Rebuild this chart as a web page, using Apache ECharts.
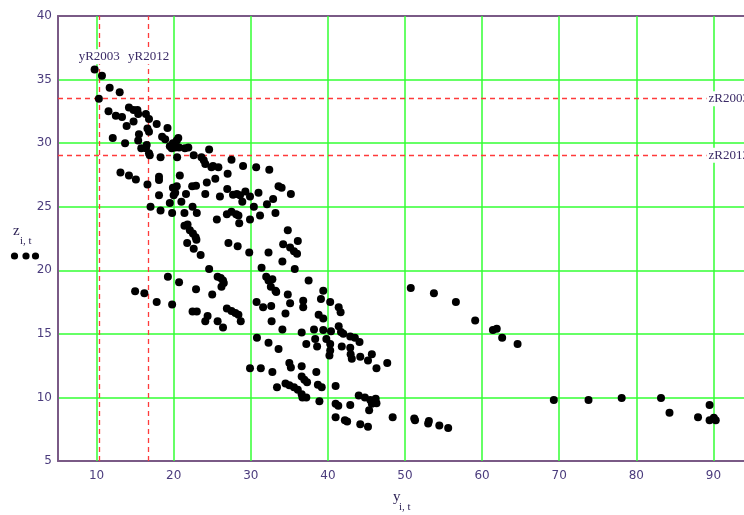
<!DOCTYPE html>
<html>
<head>
<meta charset="utf-8">
<script src="https://cdn.jsdelivr.net/npm/echarts@6/dist/echarts.min.js"></script>
<style>
html,body{margin:0;padding:0;background:#fff;overflow:hidden;width:744px;height:515px;}
#chart{width:770px;height:515px;}
</style>
</head>
<body>
<div id="chart"></div>
<script>
// x ticks (labels shown) and y range
var xTicks = [10, 20, 30, 40, 50, 60, 70, 80, 90];
var yMin = 5, yMax = 40, yStep = 5;

// reference lines
var vRefNames = ['yR2003', 'yR2012'];
var vRefValues = [10.35, 16.75];
var hRefNames = ['zR2003', 'zR2012'];
var hRefValues = [33.5, 29.05];

// points [y_i,t , z_i,t] : upper band
var upperBand = [
[9.75,35.8],[10.7,35.3],[11.7,34.35],[13.0,34.0],[10.3,33.5],[11.55,32.5],[12.5,32.15],[13.3,32.05],[13.9,31.35],[14.2,32.8],
[14.8,32.6],[15.3,32.6],[15.4,32.3],[14.8,31.7],[16.4,32.3],[16.8,31.9],[17.8,31.5],[16.6,31.15],[16.8,30.9],[19.2,31.2],
[18.5,30.5],[18.9,30.3],[15.5,30.7],[15.4,30.2],[12.1,30.4],[13.7,30.0],[15.8,29.6],[16.4,29.6],[16.5,29.85],[16.8,29.2],
[16.9,29.05],[18.3,28.9],[19.5,29.75],[19.9,30.0],[20.4,30.2],[20.6,30.4],[19.75,29.6],[20.2,29.65],[20.45,28.9],[20.7,29.65],
[21.45,29.6],[21.9,29.65],[22.6,29.05],[23.6,28.9],[23.9,28.65],[24.1,28.35],[24.6,29.5],[24.9,28.1],[25.1,28.2],[25.8,28.1],
[27.5,28.7],[29.0,28.2],[30.7,28.1],[32.4,27.9],[27.0,27.6]
];
// middle band
var middleBand = [
[13.1,27.7],[14.2,27.45],[15.1,27.15],[16.6,26.75],[18.1,27.35],[18.1,27.1],[18.1,25.9],[17.0,25.0],[18.3,24.7],[20.8,27.45],
[19.9,26.5],[20.4,26.6],[20.2,26.1],[21.6,26.0],[20.0,25.9],[19.5,25.3],[19.8,24.5],[21.0,25.4],[21.4,24.5],[22.45,25.0],
[23.0,24.5],[22.4,26.6],[22.9,26.65],[24.3,26.9],[24.1,26.0],[25.4,27.2],[26.0,25.8],[26.95,26.4],[27.7,25.95],[28.2,26.0],
[28.6,25.9],[29.3,26.2],[29.9,25.8],[28.9,25.4],[31.0,26.1],[30.4,25.0],[31.2,24.3],[32.1,25.2],[33.2,24.5],[32.9,25.6],
[33.6,26.6],[34.0,26.5],[35.2,26.0],[27.5,24.6],[28.4,24.3],[25.6,24.0],[26.9,24.4],[28.1,24.4],[28.5,23.7],[29.9,24.0],
[21.4,23.5],[21.8,23.6],[22.1,23.15],[22.5,22.9],[22.85,22.6],[22.95,22.4],[21.75,22.15],[22.6,21.7],[23.5,21.2],[27.1,22.15],
[28.3,21.9],[29.8,21.4],[34.8,23.15],[36.1,22.3],[34.2,22.05],[35.1,21.8],[35.6,21.5],[36.0,21.3],[32.3,21.4],[34.1,20.7],
[35.7,20.1],[31.4,20.2],[24.6,20.1],[25.7,19.5],[26.1,19.4],[26.4,19.2],[26.2,18.7],[26.5,19.0],[19.25,19.5],[20.7,19.05],
[22.9,18.5],[25.0,18.1],[15.0,18.35],[16.2,18.2],[17.8,17.5],[19.8,17.3],[22.45,16.75],[23.0,16.75],[24.4,16.4],[24.1,16.0],
[25.7,16.0],[26.4,15.5],[26.9,17.0],[27.5,16.8],[28.0,16.65],[28.4,16.5],[28.7,16.0]
];
// lower band
var lowerBand = [
[32.0,19.5],[32.3,19.2],[32.8,19.3],[32.6,18.7],[33.2,18.4],[33.3,18.3],[30.75,17.5],[31.6,17.1],[32.65,17.2],[34.8,18.1],
[35.1,17.4],[34.5,16.6],[32.7,16.0],[34.1,15.35],[30.8,14.7],[32.3,14.3],[33.6,13.8],[37.5,19.2],[36.8,17.6],[36.8,17.1],
[39.4,18.4],[39.1,17.75],[40.3,17.5],[41.4,17.1],[41.65,16.7],[38.8,16.5],[39.4,16.2],[36.6,15.1],[38.2,15.35],[39.4,15.3],
[40.4,15.2],[41.4,15.6],[41.7,15.15],[42.0,15.0],[42.9,14.8],[43.5,14.7],[44.1,14.35],[37.2,14.2],[38.35,14.6],[38.6,14.0],
[39.8,14.6],[40.3,14.2],[42.9,13.9],[40.3,13.7],[40.2,13.3],[41.8,14.0],[43.1,13.05],[44.2,13.2],[45.7,13.4],[45.2,12.9],
[46.3,12.3],[47.7,12.7],[42.95,13.4],
[29.9,12.3],[31.3,12.3],[32.8,12.0],[33.4,10.8],[35.0,12.7],[35.2,12.35],[36.6,12.45],[36.6,11.65],[36.95,11.4],[37.3,11.2],
[38.5,12.0],[34.5,11.1],[35.0,10.95],[35.6,10.8],[36.1,10.6],[36.6,10.25],[36.7,10.0],[37.2,10.0],[38.7,11.0],[39.2,10.8],
[38.9,9.7],[41.0,10.9],[41.0,9.5],[41.35,9.35],[42.9,9.4],[41.0,8.45],[42.2,8.2],[42.5,8.1],[44.2,7.9],[45.2,7.7],
[44.0,10.15],[44.8,10.0],[45.5,9.8],[46.2,9.9],[46.3,9.55],[45.7,9.5],[45.35,9.0],[48.4,8.45],[51.2,8.35],[51.3,8.2],
[53.0,7.95],[53.1,8.15],[54.45,7.8],[55.6,7.6]
];
// far points
var farPoints = [
[50.75,18.6],[53.75,18.2],[56.6,17.5],[59.1,16.05],[61.4,15.3],[61.9,15.4],[62.6,14.7],[64.6,14.2],
[69.3,9.8],[73.8,9.8],[78.1,9.95],[83.2,9.95],[84.3,8.8],[88.0,8.45],[89.5,9.4],[89.5,8.2],[90.05,8.4],[90.3,8.2]
];

var allPoints = upperBand.concat(middleBand, lowerBand, farPoints);

var PURPLE_AXIS = '#7a5a86';
var LABEL_COLOR = '#4b3c7d';
var TITLE_COLOR = '#2e2356';
var GREEN = '#33ff33';
var RED = '#ff3b3b';

var chart = echarts.init(document.getElementById('chart'), null, {renderer: 'canvas'});

var vLineData = vRefValues.map(function (v) { return {xAxis: v}; });
var hLineData = hRefValues.map(function (v) { return {yAxis: v}; });
var refLabelPoints = vRefNames.map(function (n, i) {
  return {name: n, coord: [vRefValues[i], 36.8],
          label: {align: 'center', verticalAlign: 'middle'}};
}).concat(hRefNames.map(function (n, i) {
  return {name: n, coord: [89.1, hRefValues[i]],
          label: {align: 'left', verticalAlign: 'middle'}};
}));

var option = {
  animation: false,
  backgroundColor: '#ffffff',
  grid: {left: 58, top: 16, width: 694, height: 445, containLabel: false},
  xAxis: [{
    type: 'value', min: 5, max: 95, interval: 5,
    axisLine: {show: true, onZero: false, lineStyle: {color: PURPLE_AXIS, width: 2}},
    axisTick: {show: false},
    splitLine: {show: false},
    axisLabel: {
      color: LABEL_COLOR, fontFamily: 'DejaVu Sans', fontSize: 12, margin: 9,
      formatter: function (v) { return xTicks.indexOf(v) >= 0 ? String(v) : ''; }
    }
  }, {
    type: 'value', min: 5, max: 95, position: 'top',
    axisLine: {show: true, onZero: false, lineStyle: {color: PURPLE_AXIS, width: 2}},
    axisTick: {show: false}, axisLabel: {show: false}, splitLine: {show: false}
  }],
  yAxis: [{
    type: 'value', min: yMin, max: yMax, interval: yStep,
    axisLine: {show: true, onZero: false, lineStyle: {color: PURPLE_AXIS, width: 2}},
    axisTick: {show: false},
    splitLine: {show: true, lineStyle: {color: GREEN, width: 1.5}},
    axisLabel: {color: LABEL_COLOR, fontFamily: 'DejaVu Sans', fontSize: 12, margin: 6}
  }],
  series: [{
    // vertical grid lines at the labelled ticks
    type: 'scatter', data: [], z: 1, silent: true,
    markLine: {
      silent: true, symbol: 'none', animation: false,
      label: {show: false},
      lineStyle: {color: GREEN, width: 1.5, type: 'solid'},
      data: xTicks.map(function (v) { return {xAxis: v}; })
    }
  }, {
    // red reference lines and their names
    type: 'scatter', data: [], z: 2, silent: true,
    markLine: {
      silent: true, symbol: 'none', animation: false,
      label: {show: false},
      lineStyle: {color: RED, width: 1.3, type: [5, 4]},
      data: vLineData.concat(hLineData)
    },
    markPoint: {
      silent: true, symbol: 'rect', symbolSize: 0, animation: false,
      label: {
        show: true, position: 'inside', formatter: '{b}',
        color: '#3a2a66', fontFamily: 'Liberation Serif', fontSize: 13,
        backgroundColor: '#ffffff', padding: [1, 2]
      },
      data: refLabelPoints
    }
  }, {
    type: 'scatter', z: 5,
    symbol: 'circle', symbolSize: 8,
    itemStyle: {color: '#000000', opacity: 1},
    data: allPoints
  }],
  graphic: [
    {type: 'text', left: 13, top: 224, style: {text: 'z', font: '15px "Liberation Serif"', fill: TITLE_COLOR}},
    {type: 'text', left: 20, top: 236, style: {text: 'i, t', font: '11px "Liberation Serif"', fill: TITLE_COLOR}},
    {type: 'circle', shape: {cx: 14.5, cy: 256, r: 3.6}, style: {fill: '#000'}},
    {type: 'circle', shape: {cx: 26, cy: 256, r: 3.6}, style: {fill: '#000'}},
    {type: 'circle', shape: {cx: 35.5, cy: 256, r: 3.6}, style: {fill: '#000'}},
    {type: 'text', left: 393, top: 490, style: {text: 'y', font: '15px "Liberation Serif"', fill: TITLE_COLOR}},
    {type: 'text', left: 399, top: 502, style: {text: 'i, t', font: '11px "Liberation Serif"', fill: TITLE_COLOR}}
  ]
};
chart.setOption(option);
</script>
</body>
</html>
